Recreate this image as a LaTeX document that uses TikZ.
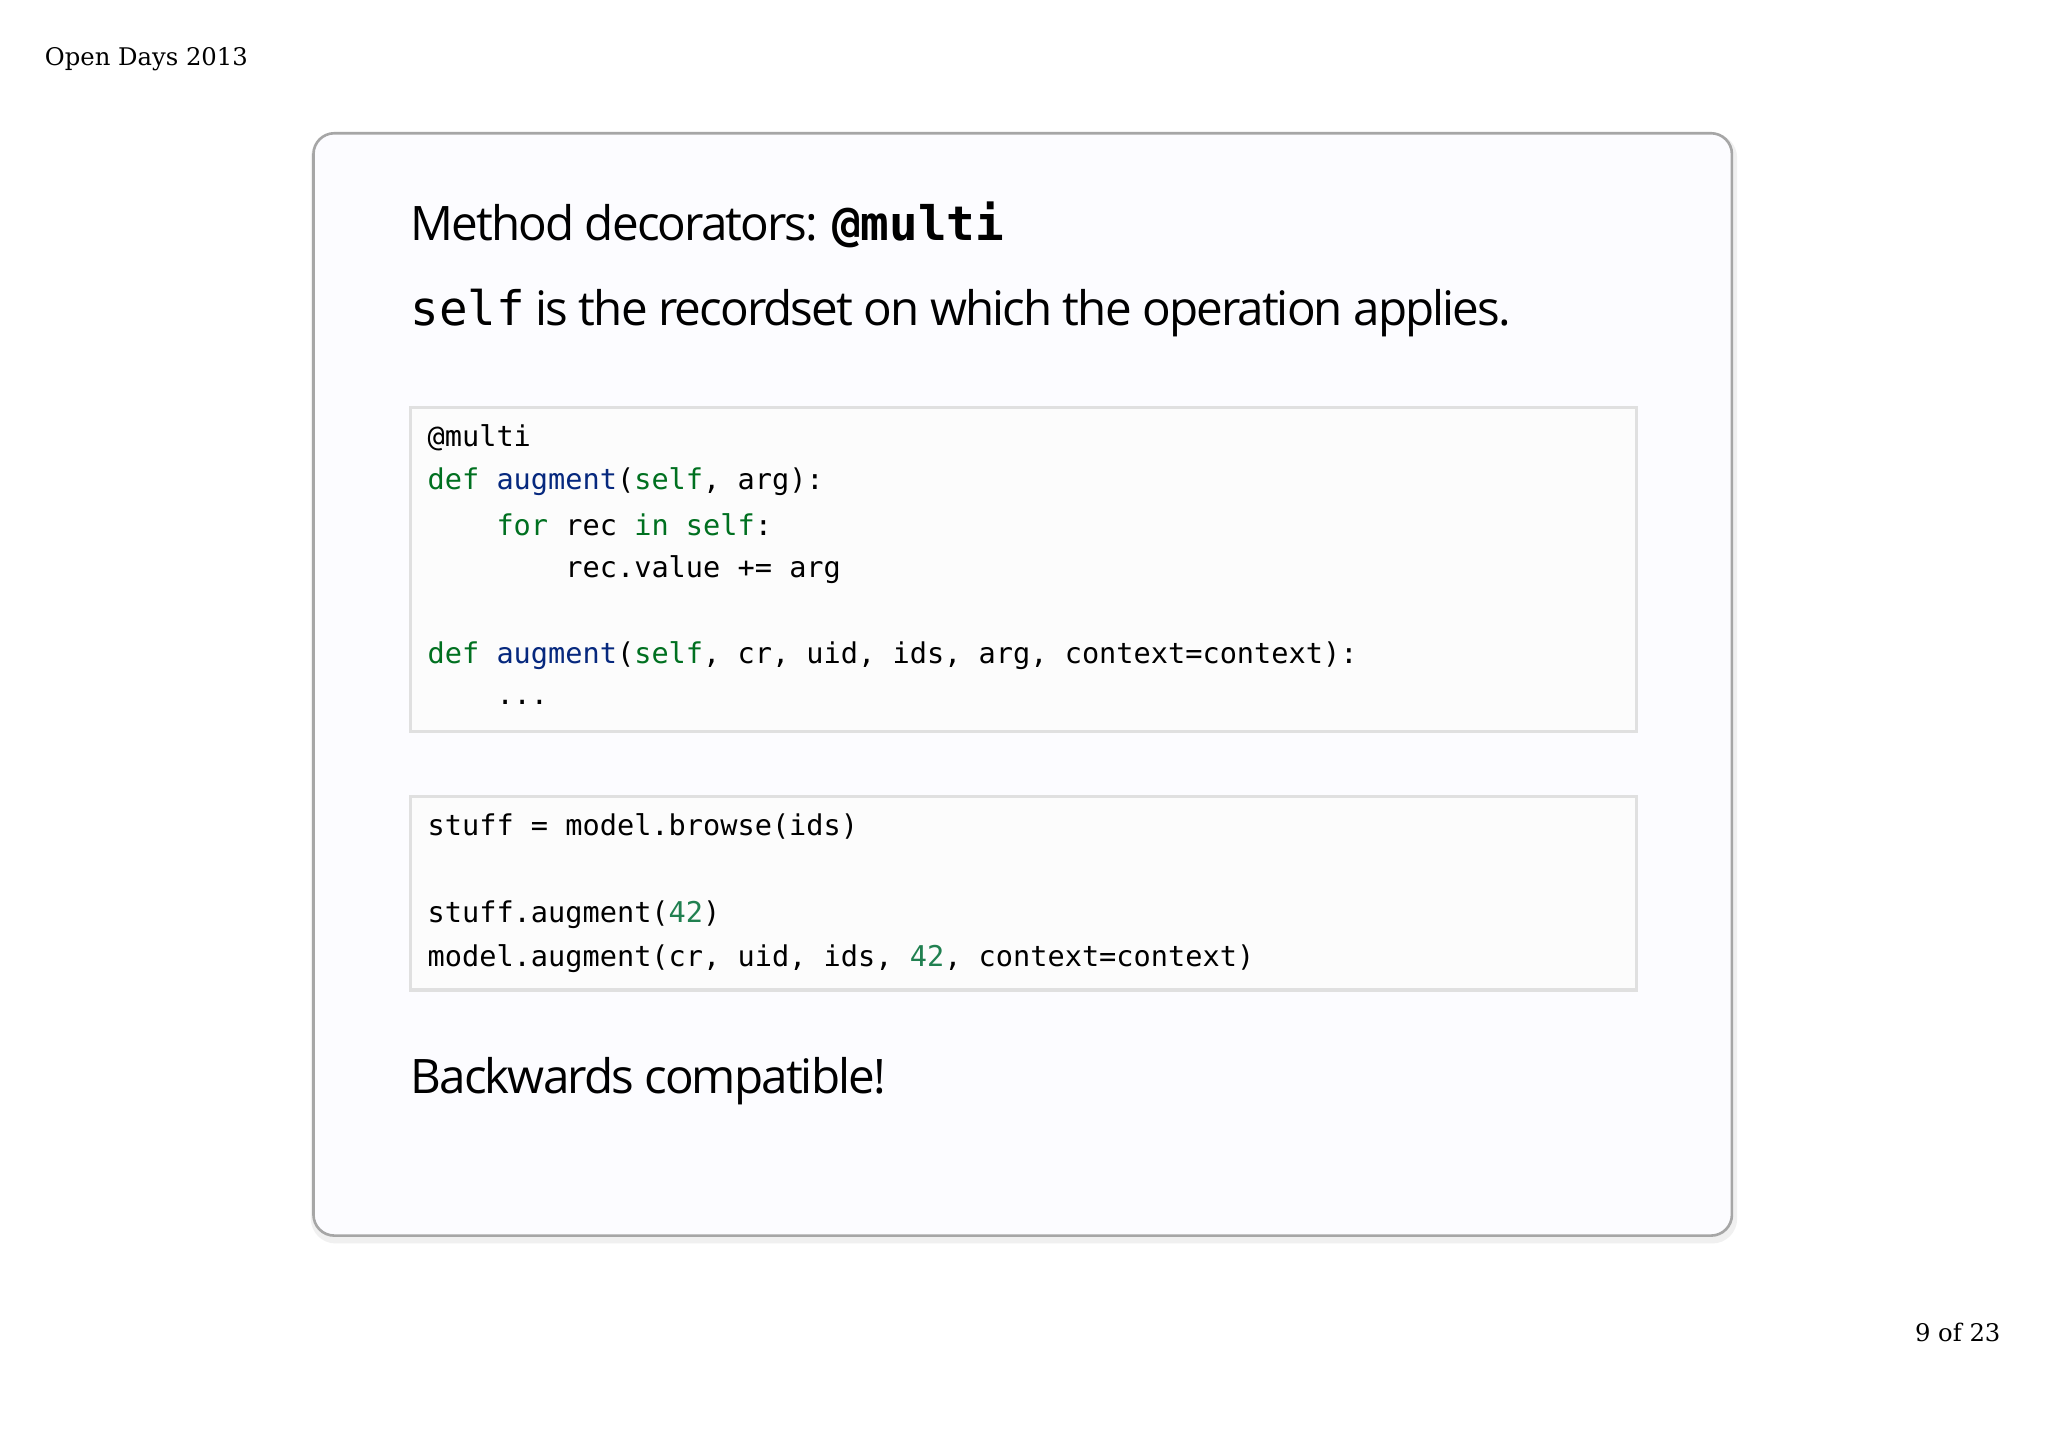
\documentclass[tikz,border=0pt]{standalone}
\usepackage{fontspec}
\setmainfont{Open Sans}
\newfontfamily\codef{DejaVu Sans Mono}
\newfontfamily\serf{DejaVu Serif}
\definecolor{kw}{RGB}{0,112,32}
\definecolor{fn}{RGB}{6,40,126}
\definecolor{num}{RGB}{32,128,80}
\begin{document}
\begin{tikzpicture}[x=0.5pt,y=-0.5pt,
  code/.style={anchor=west,inner sep=0pt,font=\codef\fontsize{10.95}{12}\selectfont},
  big/.style={anchor=west,inner sep=0pt,font=\fontsize{18.2}{22}\selectfont},
  cbox/.style={draw=black!12,line width=1.2pt,fill=black!1}]
\useasboundingbox (0,0) rectangle (1568,1110);
\fill[white] (0,0) rectangle (1568,1110);
\draw[black!6,line width=3pt,rounded corners=8] (241,105) rectangle (1327,949);
\draw[black!35,fill=white!99!blue,line width=1pt,rounded corners=8] (240,102) rectangle (1326,946);
\node[anchor=west,inner sep=0pt,font=\serf\fontsize{9.3}{11}\selectfont] (hd) at (34,45) {Open Days 2013};
\node[anchor=east,inner sep=0pt,font=\serf\fontsize{9.3}{11}\selectfont] (pg) at (1532,1020) {9 of 23};
\node[big] (t1) at (314,172) {\addfontfeatures{LetterSpace=-4}Method decorators: {\codef\bfseries @multi}};
\node[big] (t2) at (314,240) {\addfontfeatures{LetterSpace=-4}{\codef self} is the recordset on which the operation applies.};
\draw[cbox] (314,312) rectangle (1253,560);
\node[code] (l1) at (327,335) {@multi};
\node[code] (l2) at (327,369) {{\color{kw}def} {\color{fn}augment}({\color{kw}self}, arg):};
\node[code] (l3) at (327,402) {\ \ \ \ {\color{kw}for} rec {\color{kw}in} {\color{kw}self}:};
\node[code] (l4) at (327,436) {\ \ \ \ \ \ \ \ rec.value += arg};
\node[code] (l5) at (327,502) {{\color{kw}def} {\color{fn}augment}({\color{kw}self}, cr, uid, ids, arg, context=context):};
\node[code] (l6) at (327,538) {\ \ \ \ ...};
\draw[cbox] (314,610) rectangle (1253,758);
\node[code] (m1) at (327,633) {stuff = model.browse(ids)};
\node[code] (m2) at (327,700) {stuff.augment({\color{num}42})};
\node[code] (m3) at (327,734) {model.augment(cr, uid, ids, {\color{num}42}, context=context)};
\node[big] (t3) at (314,828) {\addfontfeatures{LetterSpace=-4}Backwards compatible!};
\end{tikzpicture}
\end{document}
